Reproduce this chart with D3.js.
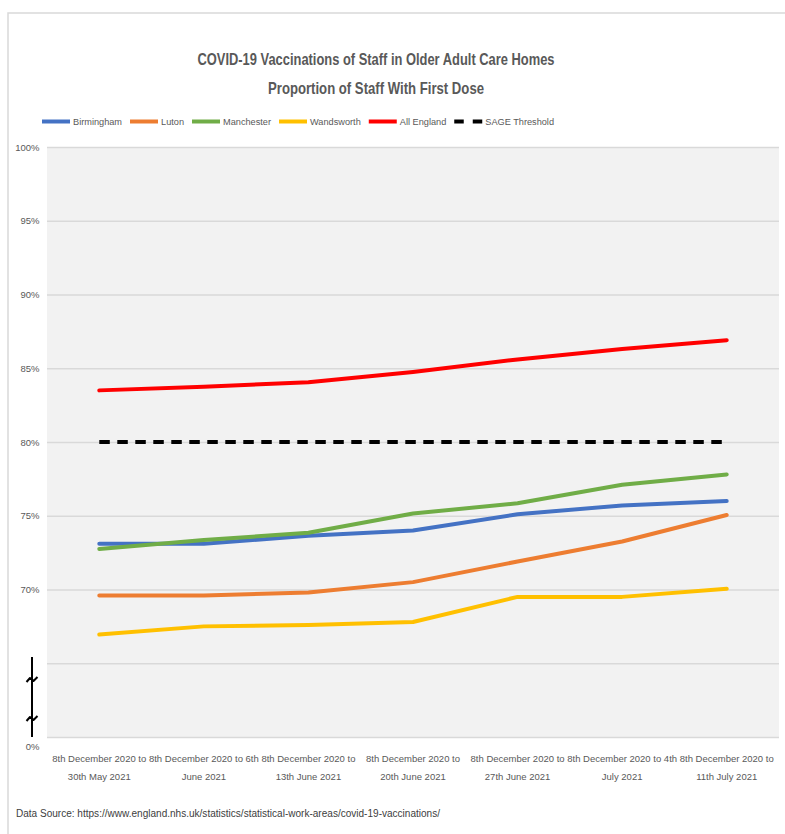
<!DOCTYPE html>
<html>
<head>
<meta charset="utf-8">
<script src="https://cdn.jsdelivr.net/npm/d3@7"></script>
<style>
  html, body { margin: 0; padding: 0; background: #ffffff; }
  svg { display: block; }
  text { font-family: "Liberation Sans", Arial, sans-serif; }
</style>
</head>
<body>
<svg id="chart" width="785" height="834"></svg>
<script>
// Periods (cumulative from 8th December 2020), split over two label lines
const periodLine1 = ["8th December 2020 to", "8th December 2020 to 6th", "8th December 2020 to",
  "8th December 2020 to", "8th December 2020 to", "8th December 2020 to 4th", "8th December 2020 to"];
const periodLine2 = ["30th May 2021", "June 2021", "13th June 2021", "20th June 2021",
  "27th June 2021", "July 2021", "11th July 2021"];

// Proportion of staff with first dose (%)
const birmingham = [73.1, 73.1, 73.65, 74.0, 75.1, 75.7, 76.0];
const luton      = [69.6, 69.6, 69.8, 70.5, 71.9, 73.25, 75.05];
const manchester = [72.75, 73.35, 73.85, 75.15, 75.85, 77.1, 77.8];
const wandsworth = [66.95, 67.5, 67.6, 67.8, 69.5, 69.5, 70.05];
const allEngland = [83.5, 83.75, 84.05, 84.75, 85.6, 86.3, 86.9];
const sageThreshold = [80, 80, 80, 80, 80, 80, 80];

const seriesNames = ["Birmingham", "Luton", "Manchester", "Wandsworth", "All England", "SAGE Threshold"];
const seriesColors = ["#4472C4", "#ED7D31", "#70AD47", "#FFC000", "#FF0000", "#000000"];

// Axis ticks: the bottom of the axis is broken, so 60 is shown as 0% and 65 unlabelled
const yTicks = [60, 65, 70, 75, 80, 85, 90, 95, 100];
const yTickLabels = ["0%", "", "70%", "75%", "80%", "85%", "90%", "95%", "100%"];

const titleLines = ["COVID-19 Vaccinations of Staff in Older Adult Care Homes", "Proportion of Staff With First Dose"];
const sourceText = "Data Source: https://www.england.nhs.uk/statistics/statistical-work-areas/covid-19-vaccinations/";

const svg = d3.select("#chart");
const plot = { left: 47, right: 779, top: 147, bottom: 737 };
const SMALL = 9.5;

// Outer chart frame (top and left edges visible)
svg.append("path")
  .attr("d", "M8,834 L8,13 L785,13")
  .attr("fill", "none").attr("stroke", "#D9D9D9").attr("stroke-width", 1.5);

// Title
svg.selectAll("text.title").data(titleLines).join("text")
  .attr("class", "title")
  .attr("x", 376).attr("y", (d, i) => 65 + i * 29)
  .attr("text-anchor", "middle")
  .attr("font-size", 16.5).attr("font-weight", "bold").attr("fill", "#595959")
  .attr("textLength", (d, i) => i === 0 ? 357 : 216)
  .attr("lengthAdjust", "spacingAndGlyphs")
  .text(d => d);

const x = d3.scalePoint().domain(d3.range(periodLine1.length)).range([plot.left, plot.right]).padding(0.5);
const y = d3.scaleLinear().domain([60, 100]).range([plot.bottom, plot.top]);

// Plot area
svg.append("rect")
  .attr("x", plot.left).attr("y", plot.top)
  .attr("width", plot.right - plot.left).attr("height", plot.bottom - plot.top)
  .attr("fill", "#F2F2F2");

// Gridlines
svg.append("g")
  .attr("transform", `translate(${plot.left},0)`)
  .call(d3.axisLeft(y).tickValues(yTicks).tickSize(-(plot.right - plot.left)).tickFormat(""))
  .call(g => g.select(".domain").remove())
  .call(g => g.selectAll(".tick line").attr("stroke", "#D9D9D9").attr("stroke-width", 1.3));

// Y tick labels
const yAxis = svg.append("g")
  .attr("transform", `translate(39.5,0)`)
  .call(d3.axisLeft(y).tickValues(yTicks).tickSize(0).tickPadding(0)
    .tickFormat((d, i) => yTickLabels[i]));
yAxis.select(".domain").remove();
yAxis.selectAll(".tick text")
  .attr("font-family", null)
  .attr("font-size", SMALL).attr("fill", "#595959");
yAxis.selectAll(".tick").filter(d => d === 60).select("text").attr("dy", "1.35em");

// Axis break marker
const brk = svg.append("g").attr("fill", "none").attr("stroke", "#000").attr("stroke-width", 2);
brk.append("line").attr("x1", 32).attr("x2", 32).attr("y1", 657).attr("y2", 737);
[679, 718].forEach(cy => {
  brk.append("path")
    .attr("d", `M26.5,${cy + 3} L30,${cy - 1} L33.5,${cy + 2} L37.5,${cy - 2}`)
    .attr("stroke-linejoin", "round");
});

// X labels (two lines per period)
const xLab = svg.append("g").attr("font-size", SMALL).attr("fill", "#595959").attr("text-anchor", "middle");
periodLine1.forEach((t, i) => {
  xLab.append("text").attr("x", x(i)).attr("y", 762).text(t);
  xLab.append("text").attr("x", x(i)).attr("y", 780).text(periodLine2[i]);
});

// Series lines
const allSeries = [birmingham, luton, manchester, wandsworth, allEngland];
const line = d3.line().x((d, i) => x(i)).y(d => y(d));

svg.append("path")
  .datum(sageThreshold)
  .attr("d", line)
  .attr("fill", "none").attr("stroke", "#000").attr("stroke-width", 4)
  .attr("stroke-dasharray", "10.5,7.5");

allSeries.forEach((s, k) => {
  svg.append("path")
    .datum(s)
    .attr("d", line)
    .attr("fill", "none")
    .attr("stroke", seriesColors[k])
    .attr("stroke-width", 4)
    .attr("stroke-linejoin", "round")
    .attr("stroke-linecap", "round");
});

// Legend
const legend = svg.append("g").attr("transform", "translate(42,121.5)");
let lx = 0;
seriesNames.forEach((name, k) => {
  const item = legend.append("g").attr("transform", `translate(${lx},0)`);
  if (k === 5) {
    item.append("line").attr("x1", 0).attr("x2", 28).attr("y1", 0).attr("y2", 0)
      .attr("stroke", "#000").attr("stroke-width", 4).attr("stroke-dasharray", "9.5,9");
  } else {
    item.append("line").attr("x1", 0).attr("x2", 28).attr("y1", 0).attr("y2", 0)
      .attr("stroke", seriesColors[k]).attr("stroke-width", 4);
  }
  const t = item.append("text").attr("x", 31).attr("y", 3.5)
    .attr("font-size", 9.2).attr("fill", "#595959").text(name);
  lx += 31 + t.node().getComputedTextLength() + 8;
});

// Source note
svg.append("text")
  .attr("x", 16).attr("y", 817)
  .attr("font-size", 10).attr("fill", "#404040")
  .attr("textLength", 424).attr("lengthAdjust", "spacingAndGlyphs")
  .text(sourceText);
</script>
</body>
</html>
